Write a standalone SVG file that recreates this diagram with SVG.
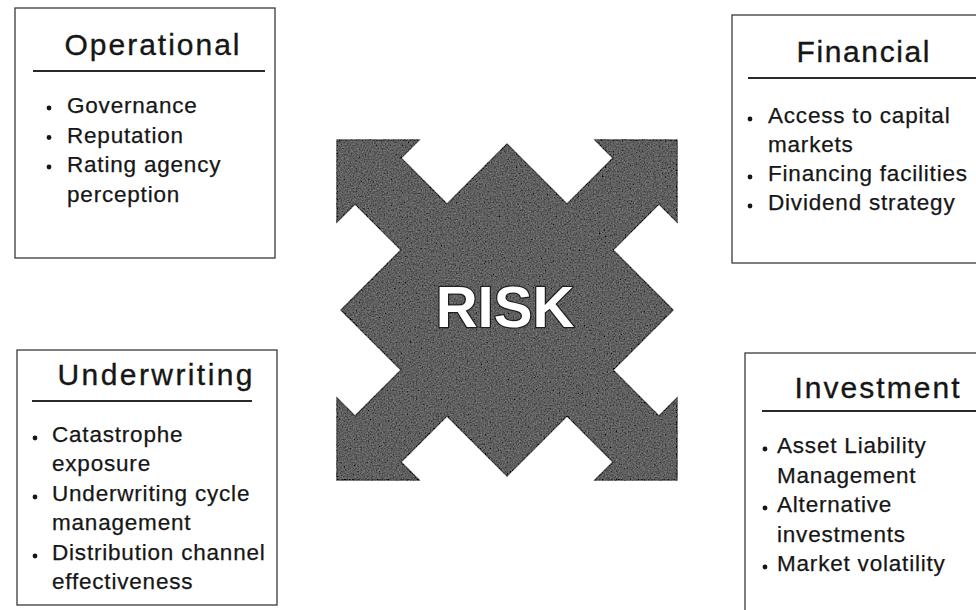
<svg xmlns="http://www.w3.org/2000/svg" width="976" height="610" viewBox="0 0 976 610">
  <style>
    .box { fill: #ffffff; stroke: #3a3a3a; stroke-width: 1.3; }
    .rule { stroke: #2a2a2a; stroke-width: 2; }
    .title { font-family: "Liberation Sans", Arial, sans-serif; font-size: 30px; fill: #161616; stroke: #161616; stroke-width: 0.35; text-anchor: middle; }
    .item { font-family: "Liberation Sans", Arial, sans-serif; font-size: 22.5px; letter-spacing: 0.8px; fill: #161616; stroke: #161616; stroke-width: 0.25; }
    .dot { fill: #161616; }
    .risk { font-family: "Liberation Sans", Arial, sans-serif; font-weight: 700; font-size: 58px; fill: #ffffff; stroke: #1e1e1e; stroke-width: 2.5; paint-order: stroke; stroke-linejoin: round; text-anchor: middle; }
  </style>
  <defs>
    <!-- speckled print texture for the central star -->
    <filter id="grain" x="-2%" y="-2%" width="104%" height="104%">
      <feTurbulence type="fractalNoise" baseFrequency="0.65" numOctaves="2" seed="7" result="noise"/>
      <feColorMatrix in="noise" type="matrix" values="0.33 0.33 0.33 0 0  0.33 0.33 0.33 0 0  0.33 0.33 0.33 0 0  0 0 0 0 1" result="grey"/>
      <feComposite in="SourceGraphic" in2="grey" operator="arithmetic" k1="0" k2="0.85" k3="0.5" k4="-0.22" result="mix"/>
      <feComposite in="mix" in2="SourceGraphic" operator="in"/>
    </filter>
  </defs>

  <rect width="976" height="610" fill="#ffffff"/>

  <!-- central diamond with four diagonal arrows -->
  <g id="risk">
    <g transform="translate(507 310)">
      <path filter="url(#grain)" fill="#5a5a5a" stroke="#2e2e2e" stroke-width="1.5" stroke-linejoin="miter"
        d="M0,-166 L60,-106 L106,-152 L88,-170 L170,-170 L170,-88 L152,-106 L106,-60 L166,0
           L106,60 L152,106 L170,88 L170,170 L88,170 L106,152 L60,106 L0,166
           L-60,106 L-106,152 L-88,170 L-170,170 L-170,88 L-152,106 L-106,60 L-166,0
           L-106,-60 L-152,-106 L-170,-88 L-170,-170 L-88,-170 L-106,-152 L-60,-106 Z"/>
    </g>
    <text class="risk" x="505" y="327">RISK</text>
  </g>

  <g id="connectors"></g>

  <!-- Operational -->
  <g id="operational">
    <rect class="box" x="15" y="8" width="260" height="250"/>
    <text class="title" x="152" y="55" textLength="175" lengthAdjust="spacing">Operational</text>
    <line class="rule" x1="33" y1="71" x2="265" y2="71"/>
    <circle class="dot" cx="49" cy="108" r="2.4"/>
    <text class="item" x="67" y="113">Governance</text>
    <circle class="dot" cx="49" cy="137.5" r="2.4"/>
    <text class="item" x="67" y="142.5">Reputation</text>
    <circle class="dot" cx="49" cy="167" r="2.4"/>
    <text class="item" x="67" y="172">Rating agency</text>
    <text class="item" x="67" y="201.5">perception</text>
  </g>

  <!-- Financial -->
  <g id="financial">
    <rect class="box" x="732" y="15" width="262" height="248"/>
    <text class="title" x="863" y="62" textLength="133" lengthAdjust="spacing">Financial</text>
    <line class="rule" x1="748" y1="78" x2="980" y2="78"/>
    <circle class="dot" cx="750" cy="119" r="2.4"/>
    <text class="item" x="768" y="123">Access to capital</text>
    <text class="item" x="768" y="152">markets</text>
    <circle class="dot" cx="750" cy="177" r="2.4"/>
    <text class="item" x="768" y="181">Financing facilities</text>
    <circle class="dot" cx="750" cy="206" r="2.4"/>
    <text class="item" x="768" y="210">Dividend strategy</text>
  </g>

  <!-- Underwriting -->
  <g id="underwriting">
    <rect class="box" x="17" y="350" width="260" height="255"/>
    <text class="title" x="155" y="385" textLength="195" lengthAdjust="spacing">Underwriting</text>
    <line class="rule" x1="32" y1="401" x2="252" y2="401"/>
    <circle class="dot" cx="35" cy="438" r="2.4"/>
    <text class="item" x="52" y="442">Catastrophe</text>
    <text class="item" x="52" y="471">exposure</text>
    <circle class="dot" cx="35" cy="497" r="2.4"/>
    <text class="item" x="52" y="501">Underwriting cycle</text>
    <text class="item" x="52" y="530">management</text>
    <circle class="dot" cx="35" cy="556" r="2.4"/>
    <text class="item" x="52" y="560">Distribution channel</text>
    <text class="item" x="52" y="589">effectiveness</text>
  </g>

  <!-- Investment -->
  <g id="investment">
    <rect class="box" x="745" y="353" width="262" height="280"/>
    <text class="title" x="877" y="398" textLength="165" lengthAdjust="spacing">Investment</text>
    <line class="rule" x1="762" y1="411" x2="980" y2="411"/>
    <circle class="dot" cx="765" cy="449" r="2.4"/>
    <text class="item" x="777" y="453">Asset Liability</text>
    <text class="item" x="777" y="482.5">Management</text>
    <circle class="dot" cx="765" cy="508" r="2.4"/>
    <text class="item" x="777" y="512">Alternative</text>
    <text class="item" x="777" y="541.5">investments</text>
    <circle class="dot" cx="765" cy="567" r="2.4"/>
    <text class="item" x="777" y="571">Market volatility</text>
  </g>
</svg>
